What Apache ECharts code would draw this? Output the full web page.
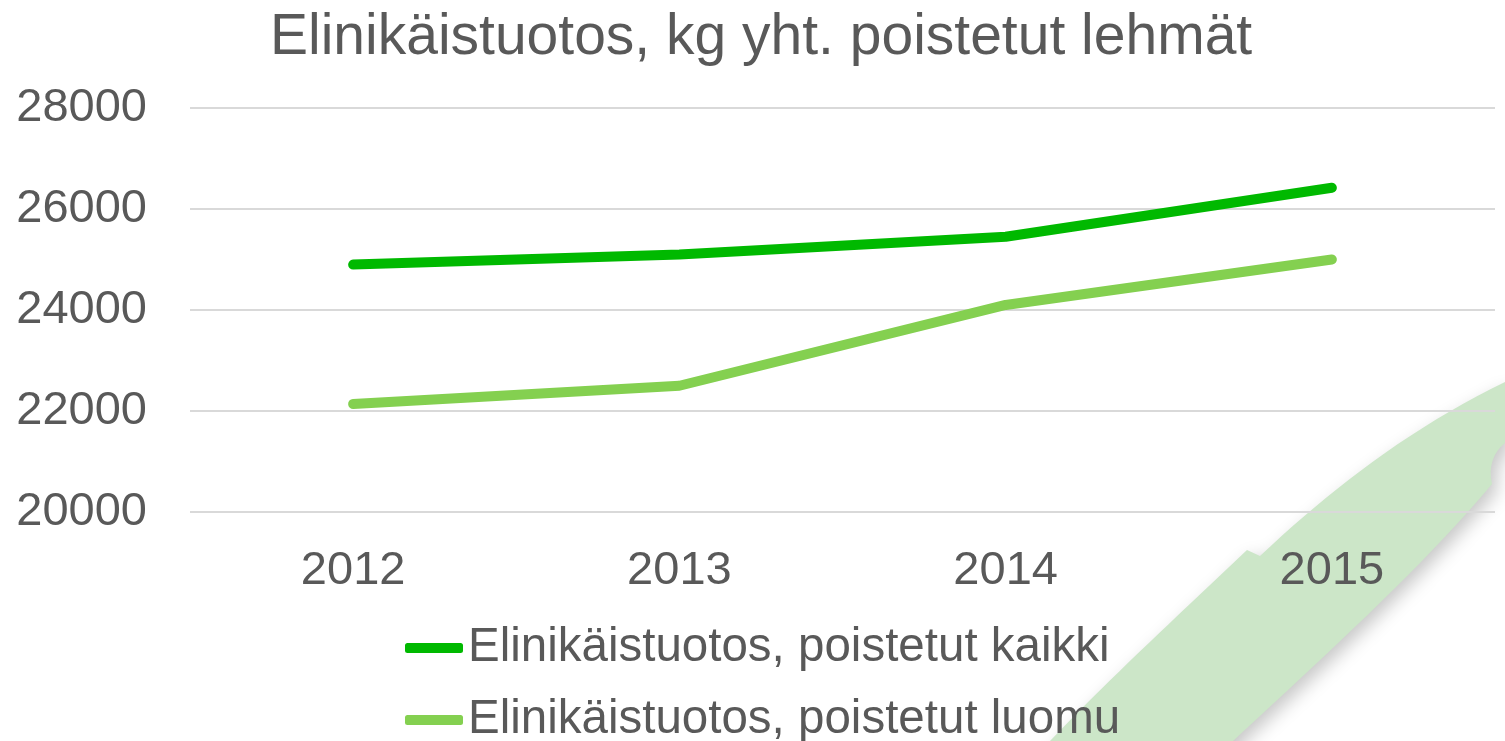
<!DOCTYPE html>
<html>
<head>
<meta charset="utf-8">
<script src="https://cdn.jsdelivr.net/npm/echarts@6/dist/echarts.min.js"></script>
<style>
html,body{margin:0;padding:0;background:#fff;}
#chart{width:1505px;height:741px;}
</style>
</head>
<body>
<div id="chart"></div>
<script>
const titleText = 'Elinikäistuotos, kg yht. poistetut lehmät';
const years = ['2012', '2013', '2014', '2015'];
const seriesNames = ['Elinikäistuotos, poistetut kaikki', 'Elinikäistuotos, poistetut luomu'];
const kaikki = [24900, 25100, 25450, 26420];
const luomu = [22140, 22500, 24100, 25000];
const yTicks = { min: 20000, max: 28000, interval: 2000 };

// decorative background swoosh outline (cubic segments, page pixels)
function cubic(p0, p1, p2, p3, n) {
  const pts = [];
  for (let i = 0; i <= n; i++) {
    const t = i / n, u = 1 - t;
    pts.push([
      u*u*u*p0[0] + 3*u*u*t*p1[0] + 3*u*t*t*p2[0] + t*t*t*p3[0],
      u*u*u*p0[1] + 3*u*u*t*p1[1] + 3*u*t*t*p2[1] + t*t*t*p3[1]
    ]);
  }
  return pts;
}
const swoosh = [].concat(
  cubic([1050,741],[1116,672],[1182,612],[1247,550], 20),
  cubic([1260,556],[1330,490],[1410,428],[1505,382], 20),
  cubic([1505,443],[1493,452],[1488,468],[1492,484], 8),
  cubic([1492,484],[1420,570],[1320,660],[1233,741], 20),
  [[1233,760],[1050,760]]
);

const font = '"Liberation Sans", Arial, sans-serif';
const chart = echarts.init(document.getElementById('chart'), null, { renderer: 'canvas' });
chart.setOption({
  backgroundColor: '#ffffff',
  animation: false,
  title: {
    text: titleText,
    left: 265,
    top: 5,
    textStyle: { fontFamily: font, fontSize: 57, fontWeight: 'normal', color: '#595959' }
  },
  graphic: [{
    type: 'polygon',
    z: -10,
    silent: true,
    shape: { points: swoosh },
    style: {
      fill: '#cce6c8',
      shadowBlur: 18,
      shadowColor: 'rgba(0,0,0,0.22)',
      shadowOffsetX: 6,
      shadowOffsetY: 6
    }
  }],
  legend: {
    orient: 'vertical',
    left: 405,
    top: 624,
    height: 160,
    padding: 0,
    itemWidth: 58,
    itemHeight: 10,
    itemGap: 24,
    icon: 'roundRect',
    data: seriesNames,
    textStyle: { fontFamily: font, fontSize: 47.5, color: '#595959' }
  },
  grid: { left: 190, right: 10, top: 108, bottom: 229 },
  xAxis: {
    type: 'category',
    data: years,
    boundaryGap: true,
    axisLine: { show: false },
    axisTick: { show: false },
    axisLabel: { margin: 36, fontFamily: font, fontSize: 47, color: '#595959' }
  },
  yAxis: {
    type: 'value',
    min: yTicks.min,
    max: yTicks.max,
    interval: yTicks.interval,
    axisLine: { show: false },
    axisTick: { show: false },
    splitLine: { lineStyle: { color: '#d9d9d9', width: 2 } },
    axisLabel: { margin: 43, fontFamily: font, fontSize: 47, color: '#595959', formatter: v => String(v) }
  },
  series: [
    {
      name: seriesNames[0],
      type: 'line',
      data: kaikki,
      symbol: 'none',
      color: '#00b900',
      lineStyle: { width: 10, cap: 'round', join: 'round', color: '#00b900' }
    },
    {
      name: seriesNames[1],
      type: 'line',
      data: luomu,
      symbol: 'none',
      color: '#84d050',
      lineStyle: { width: 10, cap: 'round', join: 'round', color: '#84d050' }
    }
  ]
});
</script>
</body>
</html>
